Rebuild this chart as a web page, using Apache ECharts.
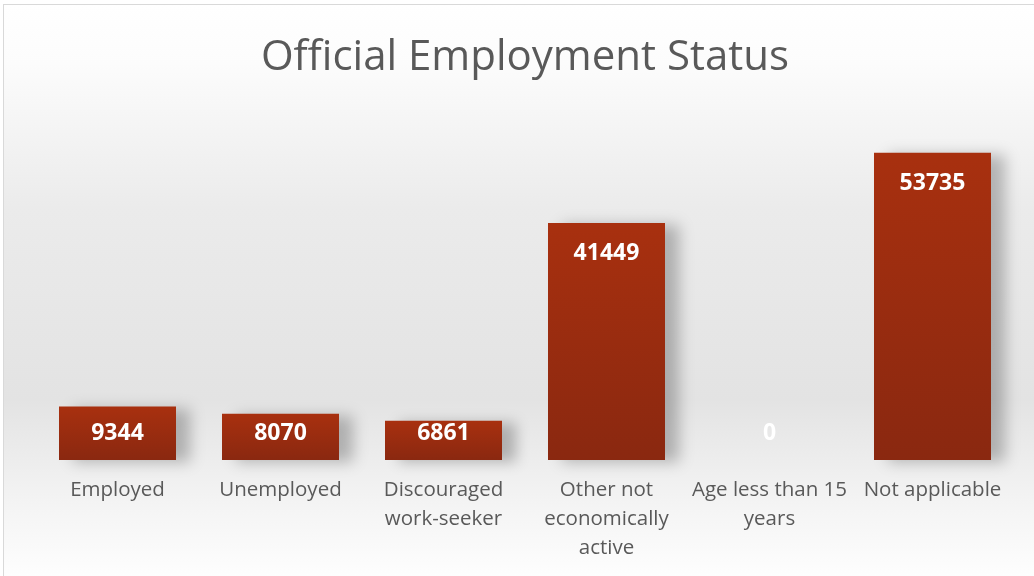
<!DOCTYPE html>
<html>
<head>
<meta charset="utf-8">
<script src="https://cdn.jsdelivr.net/npm/echarts@6/dist/echarts.min.js"></script>
<style>
  html, body { margin: 0; padding: 0; background: #fff; }
  #frame {
    position: absolute; left: 3px; top: 4px;
    width: 1040px; height: 580px;
    border: 1px solid #d9d9d9;
  }
  #main { width: 1040px; height: 580px; }
</style>
</head>
<body>
<div id="frame"><div id="main"></div></div>
<script>
// chart data
const categories = [
  "Employed",
  "Unemployed",
  "Discouraged\nwork-seeker",
  "Other not\neconomically\nactive",
  "Age less than 15\nyears",
  "Not applicable"
];
const counts = [9344, 8070, 6861, 41449, 0, 53735];

const chart = echarts.init(document.getElementById("main"));

// small bars get their label pinned near the baseline, like the original
const barData = counts.map((v) =>
  v < 10000
    ? { value: v, label: { position: "insideBottom", distance: 15 } }
    : { value: v, label: { position: "insideTop", distance: 19 } }
);

const option = {
  backgroundColor: {
    type: "linear", x: 0, y: 0, x2: 0, y2: 1,
    colorStops: [
      { offset: 0, color: "#ffffff" },
      { offset: 0.1, color: "#fcfcfc" },
      { offset: 0.35, color: "#ebebeb" },
      { offset: 0.68, color: "#e3e3e3" },
      { offset: 0.85, color: "#f3f3f3" },
      { offset: 1, color: "#ffffff" }
    ]
  },
  title: {
    text: "Official Employment Status",
    left: 516,
    textAlign: "center",
    top: 27,
    textStyle: {
      fontFamily: "Open Sans",
      fontSize: 42,
      fontWeight: "normal",
      color: "#595959"
    }
  },
  grid: { left: 32, width: 978, top: 112, height: 343 },
  xAxis: {
    type: "category",
    data: categories,
    axisLine: { show: false },
    axisTick: { show: false },
    axisLabel: {
      interval: 0,
      margin: 16,
      fontFamily: "Open Sans",
      fontSize: 20.5,
      lineHeight: 29,
      color: "#595959"
    }
  },
  yAxis: {
    type: "value",
    min: 0,
    max: 60000,
    show: false,
    splitLine: { show: false }
  },
  series: [
    {
      type: "bar",
      data: barData,
      barWidth: 117,
      itemStyle: {
        color: {
          type: "linear", x: 0, y: 0, x2: 0, y2: 1,
          colorStops: [
            { offset: 0, color: "#a8300f" },
            { offset: 1, color: "#8a2810" }
          ]
        },
        shadowColor: "rgba(0,0,0,0.25)",
        shadowBlur: 14,
        shadowOffsetX: 14,
        shadowOffsetY: 2
      },
      label: {
        show: true,
        color: "#ffffff",
        fontFamily: "Open Sans",
        fontWeight: "bold",
        fontSize: 23
      }
    }
  ]
};

chart.setOption(option);
</script>
</body>
</html>
